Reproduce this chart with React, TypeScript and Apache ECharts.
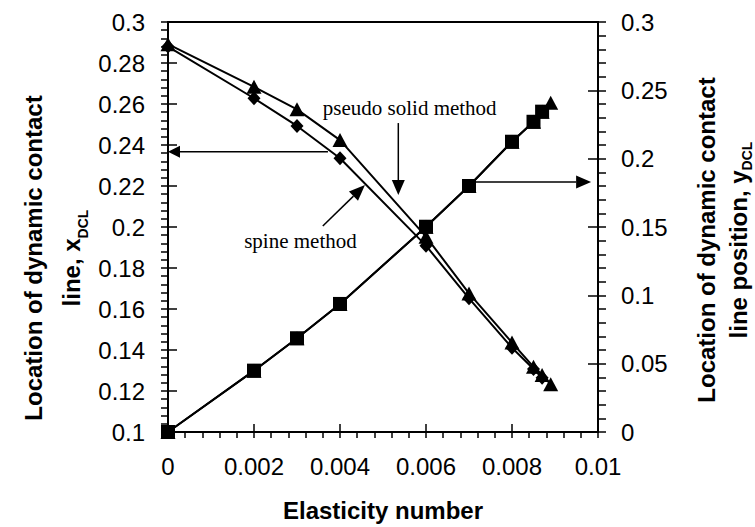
import React, { useEffect, useRef } from 'react';
import * as echarts from 'echarts';

// Elasticity number (x values)
const elasticity = [0, 0.002, 0.003, 0.004, 0.006, 0.007, 0.008, 0.0085, 0.0087, 0.0089];
// Location of dynamic contact line x_DCL (left axis)
const spineX = [0.288, 0.2628, 0.2493, 0.2335, 0.1909, 0.1652, 0.1411, 0.1307, 0.1265];
const pseudoX = [0.2892, 0.2684, 0.2574, 0.2424, 0.1953, 0.1676, 0.1436, 0.1318, 0.1278, 0.1233];
// Location of dynamic contact line position y_DCL (right axis)
const spineY = [0, 0.0449, 0.0686, 0.0937, 0.1502, 0.18, 0.2124, 0.227, 0.2344];
const pseudoY = [0, 0.0449, 0.0686, 0.0937, 0.1502, 0.18, 0.2124, 0.227, 0.2344, 0.241];

// annotation anchors in data units (yAxis: 0 = left axis, 2 = right axis)
const leftArrow = { from: [0.00372, 0.2367], to: [0, 0.2367], yAxis: 0 };
const rightArrow = { from: [0.007, 0.183], to: [0.00984, 0.183], yAxis: 2 };
const pseudoArrow = { from: [0.005356, 0.2507], to: [0.005356, 0.2156], yAxis: 0 };
const spineArrow = { from: [0.0036, 0.2005], to: [0.00458, 0.2205], yAxis: 0 };
const pseudoLabel = { text: 'pseudo solid method', at: [0.0036, 0.258] };
const spineLabel = { text: 'spine method', at: [0.00308, 0.1932] };

const SANS = '"Liberation Sans", Arial, sans-serif';
const SERIF = '"Liberation Serif", "Times New Roman", serif';

const pairs = (ys: number[]) => ys.map((y, i) => [elasticity[i], y]);

export default function App() {
  const ref = useRef<HTMLDivElement>(null);
  useEffect(() => {
    const chart = echarts.init(ref.current!, null, { renderer: 'svg' });
    const black = '#000';
    const baseAxis = {
      axisLine: { show: true, lineStyle: { color: black, width: 2 } },
      splitLine: { show: false },
    };
    const option: any = {
      animation: false,
      grid: { left: 168, top: 22, width: 430, height: 410, show: true, borderColor: black, borderWidth: 2 },
      xAxis: [
        {
          ...baseAxis,
          type: 'value', min: 0, max: 0.01, interval: 0.002, position: 'bottom',
          axisTick: { show: true, inside: false, length: 6, lineStyle: { color: black, width: 1.5 } },
          minorTick: { show: true, splitNumber: 5, length: 6, lineStyle: { color: black, width: 1.5 } },
          axisLabel: {
            color: black, fontSize: 24, fontFamily: SANS, margin: 22,
            formatter: (v: number) => String(+v.toFixed(4)),
          },
        },
        {
          type: 'value', min: 0, max: 0.01, interval: 0.002, position: 'bottom',
          axisLine: { show: false }, splitLine: { show: false }, axisLabel: { show: false },
          axisTick: { show: true, inside: true, length: 8, lineStyle: { color: black, width: 1.5 } },
        },
      ],
      yAxis: [
        {
          ...baseAxis,
          type: 'value', min: 0.1, max: 0.3, interval: 0.02, position: 'left',
          axisTick: { show: true, inside: false, length: 7, lineStyle: { color: black, width: 1.5 } },
          minorTick: { show: true, splitNumber: 5, length: 7, lineStyle: { color: black, width: 1.5 } },
          axisLabel: {
            color: black, fontSize: 24, fontFamily: SANS, margin: 23,
            formatter: (v: number) => String(+v.toFixed(3)),
          },
        },
        {
          type: 'value', min: 0.1, max: 0.3, interval: 0.02, position: 'left',
          axisLine: { show: false }, splitLine: { show: false }, axisLabel: { show: false },
          axisTick: { show: true, inside: true, length: 9, lineStyle: { color: black, width: 1.5 } },
        },
        {
          ...baseAxis,
          type: 'value', min: 0, max: 0.3, interval: 0.05, position: 'right',
          axisTick: { show: true, inside: false, length: 8, lineStyle: { color: black, width: 1.5 } },
          minorTick: { show: true, splitNumber: 5, length: 8, lineStyle: { color: black, width: 1.5 } },
          axisLabel: {
            color: black, fontSize: 24, fontFamily: SANS, margin: 23,
            formatter: (v: number) => String(+v.toFixed(3)),
          },
        },
        {
          type: 'value', min: 0, max: 0.3, interval: 0.05, position: 'right',
          axisLine: { show: false }, splitLine: { show: false }, axisLabel: { show: false },
          axisTick: { show: true, inside: true, length: 10, lineStyle: { color: black, width: 1.5 } },
        },
      ],
      series: [
        {
          type: 'line', name: 'pseudo solid x', data: pairs(pseudoX), xAxisIndex: 0, yAxisIndex: 0,
          symbol: 'triangle', symbolSize: [15, 14], showAllSymbol: true, clip: false,
          lineStyle: { color: black, width: 2 }, itemStyle: { color: black },
        },
        {
          type: 'line', name: 'spine x', data: pairs(spineX), xAxisIndex: 0, yAxisIndex: 0,
          symbol: 'diamond', symbolSize: [13, 14], showAllSymbol: true, clip: false,
          lineStyle: { color: black, width: 2 }, itemStyle: { color: black },
        },
        {
          type: 'line', name: 'pseudo solid y', data: pairs(pseudoY), xAxisIndex: 0, yAxisIndex: 2,
          symbol: 'triangle', symbolSize: [15, 14], showAllSymbol: true, clip: false,
          lineStyle: { color: black, width: 2 }, itemStyle: { color: black },
        },
        {
          type: 'line', name: 'spine y', data: pairs(spineY), xAxisIndex: 0, yAxisIndex: 2,
          symbol: 'rect', symbolSize: 14, showAllSymbol: true, clip: false,
          lineStyle: { color: black, width: 2 }, itemStyle: { color: black },
        },
      ],
    };
    chart.setOption(option);

    const px = (p: number[], yAxis = 0) =>
      chart.convertToPixel({ xAxisIndex: 0, yAxisIndex: yAxis }, p) as number[];
    const arrow = (a: { from: number[]; to: number[]; yAxis: number }, L: number, hw: number) => {
      const p0 = px(a.from, a.yAxis);
      const p1 = px(a.to, a.yAxis);
      const dx = p1[0] - p0[0];
      const dy = p1[1] - p0[1];
      const len = Math.hypot(dx, dy);
      const ux = dx / len, uy = dy / len;
      const bx = p1[0] - ux * L, by = p1[1] - uy * L;
      const nx = -uy, ny = ux;
      return [
        { type: 'line', shape: { x1: p0[0], y1: p0[1], x2: bx, y2: by }, style: { stroke: black, lineWidth: 1.5 }, z: 100 },
        {
          type: 'polygon',
          shape: { points: [[p1[0], p1[1]], [bx + nx * hw, by + ny * hw], [bx - nx * hw, by - ny * hw]] },
          style: { fill: black }, z: 100,
        },
      ];
    };
    const pl = px(pseudoLabel.at);
    const sl = px(spineLabel.at);
    const graphic: any[] = [
      ...arrow(leftArrow, 12, 6),
      ...arrow(rightArrow, 15, 6.5),
      ...arrow(pseudoArrow, 15, 6.5),
      ...arrow(spineArrow, 16, 6.5),
      {
        type: 'text', x: pl[0], y: pl[1], z: 100,
        style: { text: pseudoLabel.text, font: `21px ${SERIF}`, fill: black, align: 'left', verticalAlign: 'middle' },
      },
      {
        type: 'text', x: sl[0], y: sl[1], z: 100,
        style: { text: spineLabel.text, font: `21px ${SERIF}`, fill: black, align: 'center', verticalAlign: 'middle' },
      },
      {
        type: 'text', x: 383, y: 510,
        style: { text: 'Elasticity number', font: `bold 24px ${SANS}`, fill: black, align: 'center', verticalAlign: 'middle' },
      },
      {
        type: 'text', x: 52, y: 258, rotation: Math.PI / 2,
        style: {
          text: '{t|Location of dynamic contact}\n{t|line, x}{s|DCL}',
          align: 'center', verticalAlign: 'middle', fill: black,
          rich: {
            t: { fontSize: 24, fontWeight: 'bold', fontFamily: SANS, lineHeight: 38, fill: black },
            s: { fontSize: 14, fontWeight: 'bold', fontFamily: SANS, lineHeight: 20, verticalAlign: 'bottom', fill: black },
          },
        },
      },
      {
        type: 'text', x: 722, y: 240, rotation: Math.PI / 2,
        style: {
          text: '{t|Location of dynamic contact}\n{t|line position, y}{s|DCL}',
          align: 'center', verticalAlign: 'middle', fill: black,
          rich: {
            t: { fontSize: 24, fontWeight: 'bold', fontFamily: SANS, lineHeight: 32, fill: black },
            s: { fontSize: 14, fontWeight: 'bold', fontFamily: SANS, lineHeight: 20, verticalAlign: 'bottom', fill: black },
          },
        },
      },
    ];
    chart.setOption({ graphic });
    return () => chart.dispose();
  }, []);
  return <div ref={ref} style={{ position: 'absolute', left: 0, top: 0, width: 755, height: 527 }} />;
}
